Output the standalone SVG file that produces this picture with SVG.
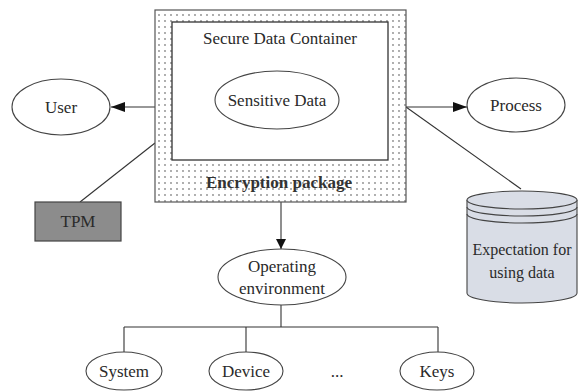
<svg xmlns="http://www.w3.org/2000/svg" width="581" height="392" viewBox="0 0 581 392">
  <defs>
    <pattern id="dots" width="6" height="6" patternUnits="userSpaceOnUse">
      <rect width="6" height="6" fill="#ffffff"/>
      <circle cx="3" cy="3" r="0.9" fill="#8a8a8a"/>
    </pattern>
    <marker id="arrow" viewBox="0 0 10 10" refX="10" refY="5" markerWidth="10" markerHeight="10" markerUnits="userSpaceOnUse" orient="auto">
      <path d="M0,0 L10,5 L0,10 Z" fill="#111"/>
    </marker>
    <marker id="arrowBig" viewBox="0 0 14 10" refX="14" refY="5" markerWidth="14" markerHeight="10" markerUnits="userSpaceOnUse" orient="auto">
      <path d="M0,0 L14,5 L0,10 Z" fill="#111"/>
    </marker>
  </defs>
  <style>
    text { font-size: 17px; fill: #2a2a2a; text-anchor: middle; }
    .small { font-size: 16px; }
    .node { fill: #ffffff; stroke: #444; stroke-width: 1.1; }
    .edge { fill: none; stroke: #333; stroke-width: 1.1; }
    .bold { font-weight: bold; fill: #333; }
  </style>
  <rect width="581" height="392" fill="#ffffff"/>

  <!-- connectors -->
  <g id="connectors">
    <line class="edge" x1="155" y1="107" x2="111" y2="107" marker-end="url(#arrowBig)"/>
    <line class="edge" x1="406" y1="107" x2="467" y2="107" marker-end="url(#arrowBig)"/>
    <line class="edge" x1="155" y1="143" x2="80" y2="202"/>
    <line class="edge" x1="406" y1="107" x2="521" y2="189"/>
    <line class="edge" x1="281" y1="202" x2="281" y2="249" marker-end="url(#arrow)"/>
    <path class="edge" d="M281,305 V327 M124,327 H438 M124,327 V352 M246,327 V352 M438,327 V352"/>
  </g>

  <g font-family="'Liberation Serif', 'Times New Roman', 'DejaVu Serif', serif">
    <!-- encryption package with secure container inside -->
    <g id="encryption-package">
      <rect x="155" y="10" width="251" height="192" fill="url(#dots)" stroke="#555" stroke-width="1.2"/>
      <text class="bold" x="279" y="188">Encryption package</text>
    </g>
    <g id="secure-data-container">
      <rect x="172" y="22" width="216" height="138" fill="#ffffff" stroke="#333" stroke-width="1.3"/>
      <text x="280" y="44">Secure Data Container</text>
    </g>
    <g id="sensitive-data">
      <ellipse class="node" cx="277" cy="100" rx="62" ry="29"/>
      <text x="277" y="106">Sensitive Data</text>
    </g>

    <g id="user">
      <ellipse class="node" cx="61" cy="107" rx="49" ry="28"/>
      <text x="61" y="113">User</text>
    </g>

    <g id="process">
      <ellipse class="node" cx="516" cy="105" rx="49" ry="27"/>
      <text x="516" y="111">Process</text>
    </g>

    <g id="tpm">
      <rect x="35" y="202" width="86" height="39" fill="#8c8c8c" stroke="#444" stroke-width="1.2"/>
      <text x="78" y="227">TPM</text>
    </g>

    <g id="expectation">
      <path d="M467,200 V293 A55,10 0 0 0 577,293 V200" fill="#d9dde6" stroke="#444" stroke-width="1.1"/>
      <ellipse cx="522" cy="200" rx="55" ry="9" fill="#d9dde6" stroke="#444" stroke-width="1.1"/>
      <path d="M467,207 A55,9 0 0 0 577,207 M467,214 A55,9 0 0 0 577,214" fill="none" stroke="#444" stroke-width="1.1"/>
      <text class="small" x="522" y="255">Expectation for</text>
      <text class="small" x="522" y="278">using data</text>
    </g>

    <g id="operating-environment">
      <ellipse class="node" cx="282" cy="277" rx="64" ry="28"/>
      <text x="282" y="272">Operating</text>
      <text x="282" y="294">environment</text>
    </g>

    <g id="system">
      <ellipse class="node" cx="124" cy="371" rx="38" ry="19"/>
      <text x="124" y="377">System</text>
    </g>
    <g id="device">
      <ellipse class="node" cx="246" cy="371" rx="37" ry="19"/>
      <text x="246" y="377">Device</text>
    </g>
    <text x="337" y="377">...</text>
    <g id="keys">
      <ellipse class="node" cx="437" cy="371" rx="37" ry="19"/>
      <text x="437" y="377">Keys</text>
    </g>
  </g>
</svg>
